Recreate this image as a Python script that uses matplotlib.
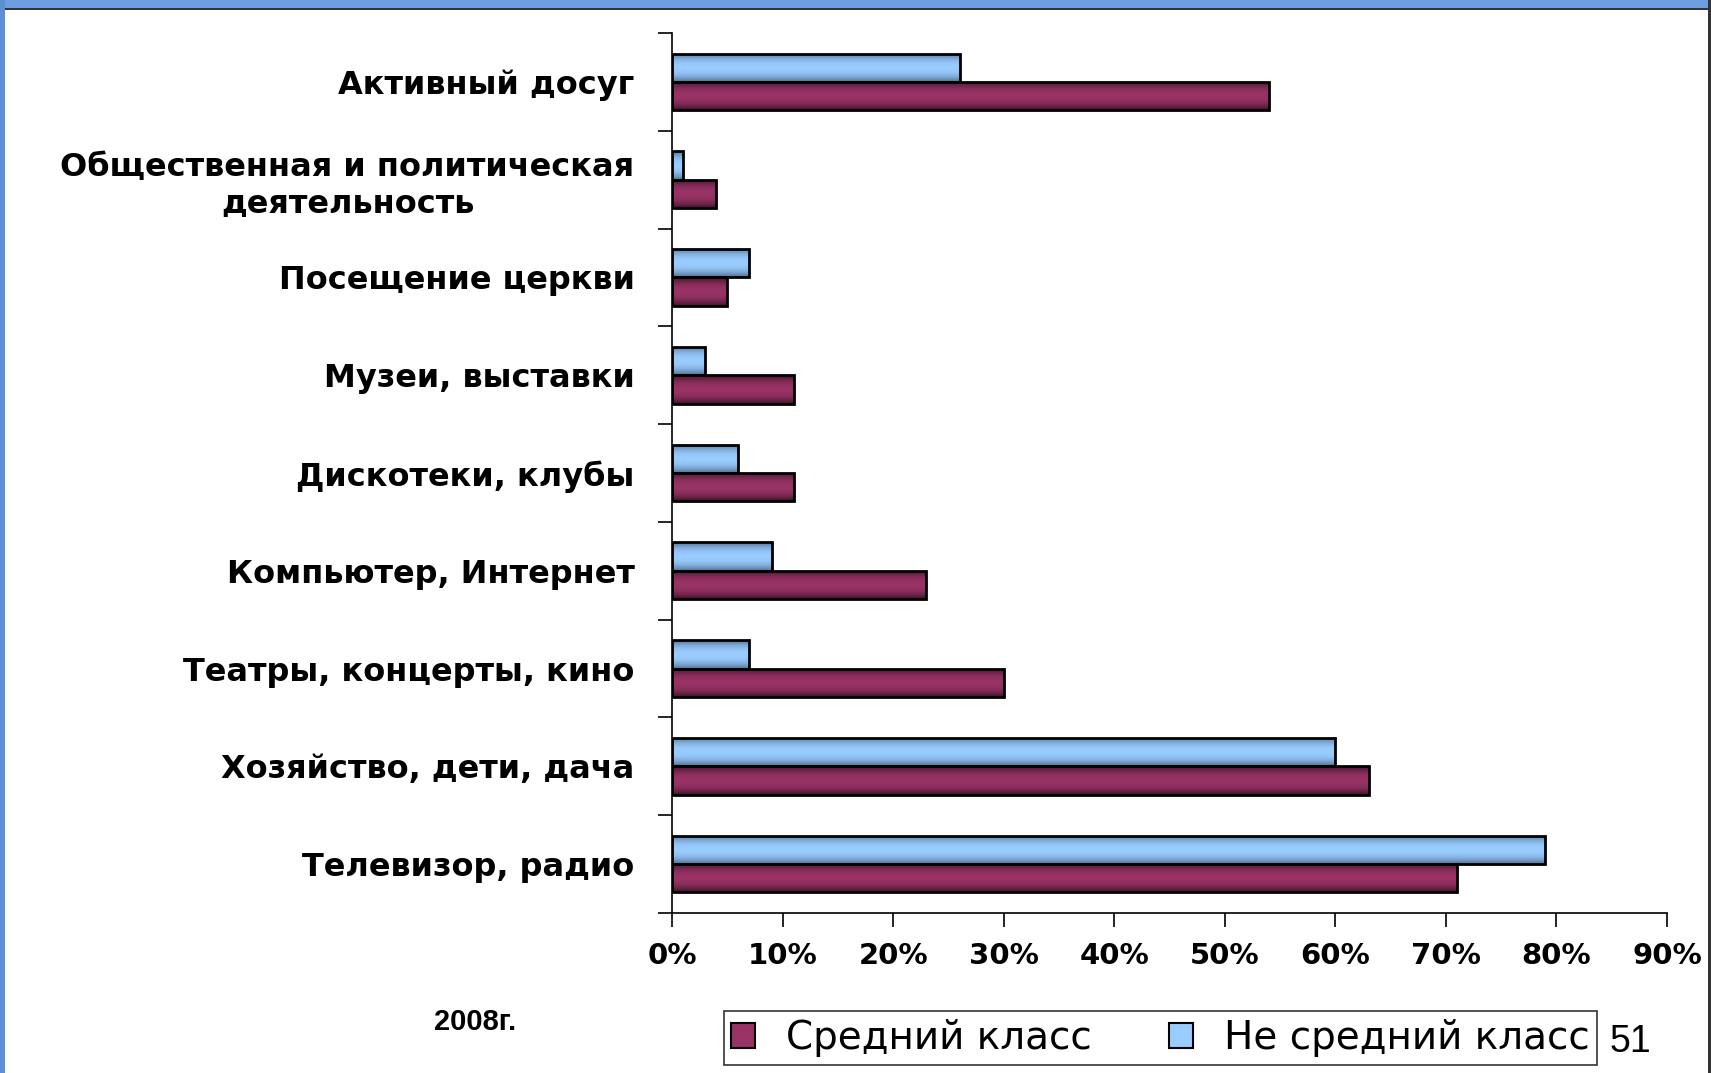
import numpy as np
import matplotlib.pyplot as plt
from matplotlib.patches import Patch, Rectangle
from matplotlib.ticker import PercentFormatter

categories = ['Активный досуг',
              'Общественная и политическая\nдеятельность',
              'Посещение церкви',
              'Музеи, выставки',
              'Дискотеки, клубы',
              'Компьютер, Интернет',
              'Театры, концерты, кино',
              'Хозяйство, дети, дача',
              'Телевизор, радио']
# проценты, сверху вниз
middle_class = [54, 4, 5, 11, 11, 23, 30, 63, 71]
not_middle_class = [26, 1, 7, 3, 6, 9, 7, 60, 79]
x_ticks = [0, 10, 20, 30, 40, 50, 60, 70, 80, 90]

RED = '#993366'
BLUE = '#99CCFF'


def shade_bars(ax, bars, base, dark):
    # градієнт як у Excel: темніше зверху і знизу
    t = np.linspace(0, 1, 64)
    w = np.abs(t - 0.5) * 2
    c0 = np.array(plt.matplotlib.colors.to_rgb(base))
    c1 = np.array(plt.matplotlib.colors.to_rgb(dark))
    grad = (1 - w[:, None] ** 2.2) * c0 + (w[:, None] ** 2.2) * c1
    img = grad[:, None, :]
    for b in bars:
        x, y = b.get_x(), b.get_y()
        im = ax.imshow(img, extent=(x, x + b.get_width(), y + b.get_height(), y),
                       aspect='auto', zorder=2, interpolation='bilinear')
        im.set_clip_path(b)


fig = plt.figure(figsize=(17.11, 10.73), dpi=100)
ax = fig.add_axes([0.3928, 0.1491, 0.5815, 0.8201])

y = np.arange(len(categories))
h = 0.29
bars_blue = ax.barh(y - h / 2, not_middle_class, height=h, color=BLUE,
                    edgecolor='black', linewidth=2.0, zorder=3)
bars_red = ax.barh(y + h / 2, middle_class, height=h, color=RED,
                   edgecolor='black', linewidth=2.0, zorder=3)
for b in list(bars_blue) + list(bars_red):
    b.set_facecolor('none')
shade_bars(ax, bars_blue, BLUE, '#4f6f91')
shade_bars(ax, bars_red, RED, '#3d1228')

ax.set_xlim(0, 90)
ax.set_ylim(len(categories) - 0.5, -0.5)

ax.set_xticks(x_ticks)
ax.xaxis.set_major_formatter(PercentFormatter(decimals=0))
for lab in ax.get_xticklabels():
    lab.set_fontfamily('DejaVu Sans')
    lab.set_fontweight('bold')
    lab.set_fontsize(21)
ax.tick_params(axis='x', length=10, width=1.2, pad=11, direction='out')

ax.set_yticks(np.arange(len(categories) + 1) - 0.5)
ax.set_yticklabels([])
ax.set_yticks(y, minor=True)
ax.set_yticklabels(categories, minor=True, fontsize=23, fontweight='bold',
                   family='DejaVu Sans', multialignment='center')
ax.tick_params(axis='y', which='major', length=10, width=1.2, direction='out')
ax.tick_params(axis='y', which='minor', length=0, pad=27)

for s in ['top', 'right']:
    ax.spines[s].set_visible(False)
ax.spines['left'].set_linewidth(1.2)
ax.spines['bottom'].set_linewidth(1.2)

handles = [Patch(facecolor=RED, edgecolor='black', linewidth=1.5, label='Средний класс'),
           Patch(facecolor=BLUE, edgecolor='black', linewidth=1.5, label='Не средний класс')]
leg = fig.legend(handles=handles, loc='center', bbox_to_anchor=(0.6783, 0.0326),
                 ncol=2, frameon=True, fancybox=False, edgecolor='black',
                 prop={'family': 'DejaVu Sans', 'size': 28},
                 handlelength=0.6, handleheight=0.6, handletextpad=0.8,
                 columnspacing=2.0, borderpad=0.2, borderaxespad=0)
leg.get_frame().set_linewidth(1.2)

fig.text(0.2776, 0.0475, '2008г.', ha='center', va='center', fontsize=21,
         fontweight='bold', family='Liberation Sans')
fig.text(0.9405, 0.0290, '51', ha='left', va='center', fontsize=27,
         family='Liberation Sans')

# рамка слайда
fig.patches.append(Rectangle((0, 1 - 9 / 1073), 1, 9 / 1073, transform=fig.transFigure,
                             facecolor='#6a9ee0', edgecolor='none', zorder=0))
fig.patches.append(Rectangle((0, 1 - 10 / 1073), 1, 1.5 / 1073, transform=fig.transFigure,
                             facecolor='#333333', edgecolor='none', zorder=0))
fig.patches.append(Rectangle((0, 0), 5 / 1711, 1, transform=fig.transFigure,
                             facecolor='#5d8fd4', edgecolor='none', zorder=0))
fig.patches.append(Rectangle((1 - 3 / 1711, 0), 3 / 1711, 1, transform=fig.transFigure,
                             facecolor='#333333', edgecolor='none', zorder=0))

plt.savefig('out.png', dpi=100)
plt.close()
